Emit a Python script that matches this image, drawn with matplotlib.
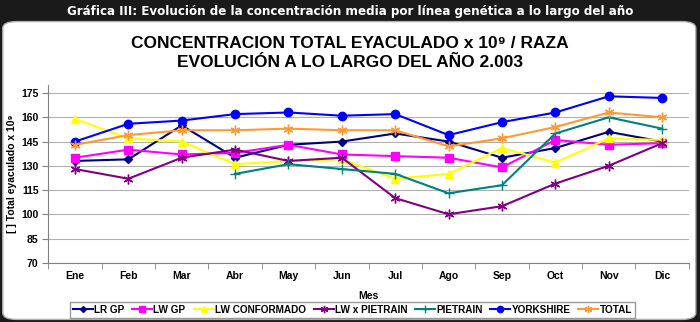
import matplotlib.pyplot as plt
from matplotlib.patches import FancyBboxPatch

meses = ['Ene', 'Feb', 'Mar', 'Abr', 'May', 'Jun', 'Jul', 'Ago', 'Sep', 'Oct', 'Nov', 'Dic']

lr_gp = [133, 134, 155, 135, 143, 145, 150, 145, 135, 141, 151, 145]
lw_gp = [135, 140, 137, 138, 143, 137, 136, 135, 129, 146, 143, 144]
lw_conformado = [159, 147, 145, 131, 133, 134, 122, 125, 141, 132, 147, 146]
lw_x_pietrain = [128, 122, 135, 140, 133, 135, 110, 100, 105, 119, 130, 144]
pietrain = [None, None, None, 125, 131, 128, 125, 113, 118, 150, 160, 153]
yorkshire = [145, 156, 158, 162, 163, 161, 162, 149, 157, 163, 173, 172]
total = [143, 149, 152, 152, 153, 152, 152, 142, 147, 154, 163, 160]

series = [
    ('LR GP', lr_gp, '#000080', 'D', 4),
    ('LW GP', lw_gp, '#ff00ff', 's', 6),
    ('LW CONFORMADO', lw_conformado, '#ffff00', '^', 6),
    ('LW x PIETRAIN', lw_x_pietrain, '#800080', (6, 2, 0), 7),
    ('PIETRAIN', pietrain, '#008080', '+', 7),
    ('YORKSHIRE', yorkshire, '#0000ff', 'o', 6),
    ('TOTAL', total, '#ff9933', (6, 2, 0), 7),
]

fnt = ['Liberation Sans', 'DejaVu Sans']

fig = plt.figure(figsize=(7, 3.22), dpi=100)
fig.patch.set_facecolor('#1a1a1a')

# white rounded panel behind everything
panel = FancyBboxPatch((0.004, 0.008), 0.99, 0.925, boxstyle='round,pad=0,rounding_size=0.02',
                       transform=fig.transFigure, facecolor='white', edgecolor='#b0b0b0',
                       linewidth=1, zorder=-10)
fig.patches.append(panel)

fig.text(0.5, 0.965, 'Gráfica III: Evolución de la concentración media por línea genética a lo largo del año',
         ha='center', va='center', color='white', fontsize=9.5, fontweight='bold',
         family=['Liberation Sans Narrow', 'DejaVu Sans'], fontstretch='condensed')

fig.text(0.5, 0.865, 'CONCENTRACION TOTAL EYACULADO x 10⁹ / RAZA', ha='center', va='center',
         fontsize=12.5, fontweight='bold', family=fnt)
fig.text(0.5, 0.805, 'EVOLUCIÓN A LO LARGO DEL AÑO 2.003', ha='center', va='center',
         fontsize=12.5, fontweight='bold', family=fnt)

ax = fig.add_axes([0.069, 0.184, 0.915, 0.552])
ax.set_facecolor('none')
x = list(range(len(meses)))
for name, vals, col, mk, ms in series:
    ax.plot(x, [v if v is not None else float('nan') for v in vals], color=col, marker=mk,
            markersize=ms, linewidth=1.5, label=name, markeredgewidth=1)

ax.set_xlim(-0.5, 11.5)
ax.set_ylim(70, 180)
ax.set_yticks(range(70, 176, 15))
ax.set_xticks(x)
ax.set_xticklabels(meses)
ax.set_xticks([i + 0.5 for i in range(-1, 12)], minor=True)
ax.tick_params(axis='x', which='major', length=0, pad=6)
ax.tick_params(axis='x', which='minor', length=4, color='#808080')
ax.tick_params(axis='y', length=4, color='#808080', pad=3)
for lab in ax.get_xticklabels() + ax.get_yticklabels():
    lab.set_fontsize(7.5)
    lab.set_fontweight('bold')
    lab.set_family(fnt)
ax.grid(axis='y', color='#b0b0b0', linewidth=0.8)
ax.set_axisbelow(True)
for s in ['top', 'right']:
    ax.spines[s].set_visible(False)
ax.spines['left'].set_color('#808080')
ax.spines['bottom'].set_color('#808080')

ax.set_ylabel('[ ] Total eyaculado x 10⁹', fontsize=7.5, fontweight='bold', family=fnt, labelpad=3)
ax.set_xlabel('Mes', fontsize=7.5, fontweight='bold', family=fnt, labelpad=7)

leg = ax.legend(loc='upper center', bbox_to_anchor=(0.475, -0.19), ncol=7, frameon=True,
                fancybox=False, edgecolor='#808080', handlelength=2.0, handletextpad=0.1,
                columnspacing=0.8, borderpad=0.3, markerscale=0.75,
                prop={'size': 7.2, 'weight': 'bold', 'family': fnt})
leg.get_frame().set_linewidth(1)

plt.savefig('out.png', dpi=100, facecolor=fig.get_facecolor())
